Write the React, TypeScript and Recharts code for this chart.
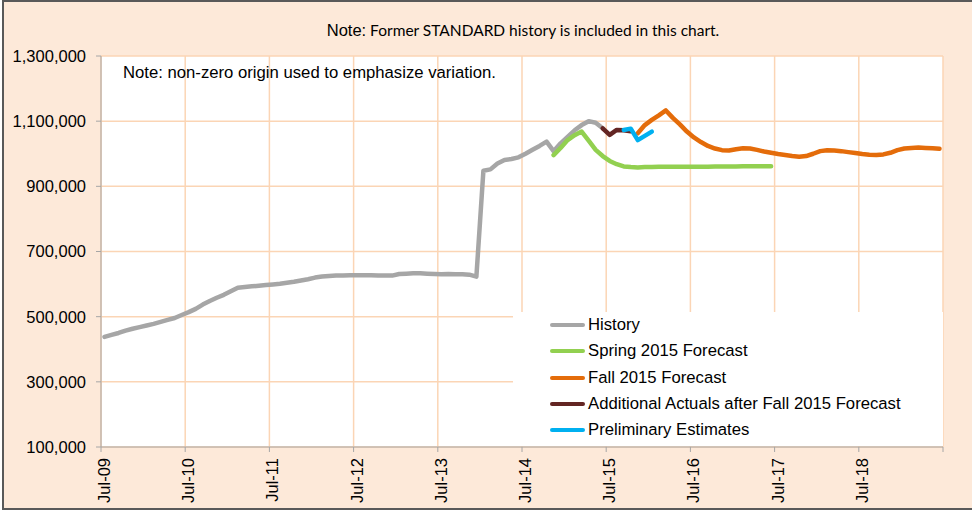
import React from 'react';
import { LineChart, Line, XAxis, YAxis, CartesianGrid, Legend } from 'recharts';

// Month index 0 = Jul-09 (points are drawn at the middle of their month)
const yearTicks = [0, 12, 24, 36, 48, 60, 72, 84, 96, 108, 120];
const yearLabels = ['Jul-09', 'Jul-10', 'Jul-11', 'Jul-12', 'Jul-13', 'Jul-14', 'Jul-15', 'Jul-16', 'Jul-17', 'Jul-18', ''];
const yTicks = [100000, 300000, 500000, 700000, 900000, 1100000, 1300000];

const historyStart = 0;
const history = [
  438000, 444000, 450000, 457000, 463000, 468000, 473000, 478000, 484000, 490000, 496000, 505000,
  514000, 524000, 537000, 548000, 558000, 567000, 578000, 589000, 591000, 593000, 595000, 597000,
  599000, 601000, 604000, 607000, 611000, 615000, 620000, 623000, 625000, 626000, 626000, 627000,
  627000, 627000, 627000, 626000, 626000, 626000, 631000, 632000, 633000, 633000, 632000, 631000,
  630000, 631000, 630000, 630000, 629000, 623000, 948000, 952000, 970000, 981000, 984000, 989000,
  1000000, 1012000, 1024000, 1037000, 1008000, 1032000, 1052000, 1072000, 1088000, 1100000, 1095000, 1078000,
];

const springStart = 64;
const spring = [
  996000, 1018000, 1042000, 1057000, 1068000, 1040000, 1012000, 993000, 978000, 968000, 961000, 959000,
  958000, 959000, 959000, 960000, 960000, 960000, 960000, 960000, 960000, 960000, 960000, 961000,
  961000, 961000, 961000, 962000, 962000, 962000, 962000, 962000,
];

const fallStart = 76;
const fall = [
  1063000, 1088000, 1104000, 1118000, 1133000, 1110000, 1090000, 1068000, 1050000, 1036000, 1024000, 1016000,
  1011000, 1010000, 1014000, 1017000, 1016000, 1012000, 1007000, 1003000, 999000, 996000, 993000, 991000,
  993000, 1000000, 1008000, 1011000, 1010000, 1008000, 1005000, 1002000, 999000, 997000, 996000, 998000,
  1003000, 1011000, 1016000, 1018000, 1019000, 1018000, 1017000, 1015000,
];

const actualsStart = 71;
const actuals = [1078000, 1058000, 1073000, 1072000, 1069000];

const prelimStart = 74;
const prelim = [1073000, 1077000, 1042000, 1055000, 1068000];

const seriesDefs = [
  { key: 'history', name: 'History', color: '#A6A6A6', start: historyStart, values: history },
  { key: 'spring', name: 'Spring 2015 Forecast', color: '#92D050', start: springStart, values: spring },
  { key: 'fall', name: 'Fall 2015 Forecast', color: '#E46C0A', start: fallStart, values: fall },
  { key: 'actuals', name: 'Additional Actuals after Fall 2015 Forecast', color: '#632523', start: actualsStart, values: actuals },
  { key: 'prelim', name: 'Preliminary Estimates', color: '#00B0F0', start: prelimStart, values: prelim },
];
const seriesNames = seriesDefs.map((s) => s.name);

const rows: any[] = [];
for (let m = 0; m < 120; m++) {
  const row: any = { x: m + 0.5 };
  seriesDefs.forEach((s) => {
    const i = m - s.start;
    if (i >= 0 && i < s.values.length) row[s.key] = s.values[i];
  });
  rows.push(row);
}

const FONT = '"Liberation Sans", Arial, sans-serif';
const PEACH = '#FDE9D9';
const GRID = '#FBD5B5';

const XTick = (props: any) => {
  const { x, y, payload } = props;
  const idx = yearTicks.indexOf(payload.value);
  const label = idx >= 0 ? yearLabels[idx] : '';
  return (
    <text
      x={x}
      y={y}
      transform={`rotate(-90 ${x} ${y})`}
      textAnchor="end"
      dy="0.55em"
      fontFamily={FONT}
      fontSize={16.5}
      fill="#000"
    >
      {label}
    </text>
  );
};

const LegendContent = (props: any) => {
  const payload = [...(props.payload || [])].sort(
    (a: any, b: any) => seriesNames.indexOf(a.value) - seriesNames.indexOf(b.value)
  );
  return (
    <div style={{ width: '100%', height: '100%', background: '#fff', position: 'relative' }}>
      {payload.map((p: any, i: number) => (
        <div
          key={i}
          style={{
            position: 'absolute',
            left: 37,
            top: i * 26.3,
            height: 26.3,
            display: 'flex',
            alignItems: 'center',
            whiteSpace: 'nowrap',
          }}
        >
          <div style={{ width: 35, height: 4, borderRadius: 2, background: p.color }} />
          <span style={{ marginLeft: 3, fontFamily: FONT, fontSize: 16.7, color: '#000' }}>{p.value}</span>
        </div>
      ))}
    </div>
  );
};

export default function App() {
  return (
    <div style={{ position: 'absolute', left: 0, top: 0, width: 972, height: 510, overflow: 'hidden', background: '#fff' }}>
      <div
        style={{
          position: 'absolute',
          left: 2,
          top: 0,
          width: 980,
          height: 506,
          background: PEACH,
          border: '2px solid #595959',
        }}
      />
      <div style={{ position: 'absolute', left: 0, top: 0 }}>
        <LineChart width={972} height={510} data={rows} margin={{ top: 56, right: 29, bottom: 8, left: 0 }}>
          <CartesianGrid stroke={GRID} strokeWidth={1.5} fill="#fff" fillOpacity={1} />
          <XAxis
            type="number"
            dataKey="x"
            domain={[0, 120]}
            ticks={yearTicks}
            interval={0}
            height={55}
            tickSize={5}
            tickMargin={6}
            tick={<XTick />}
            stroke="#A6A6A6"
            tickLine={{ stroke: '#A6A6A6' }}
          />
          <YAxis
            type="number"
            domain={[100000, 1300000]}
            ticks={yTicks}
            interval={0}
            width={101}
            tickSize={5}
            tickMargin={10}
            allowDataOverflow
            stroke="#A6A6A6"
            tickLine={{ stroke: '#A6A6A6' }}
            tick={{ fontFamily: FONT, fontSize: 16.5, fill: '#000' }}
            tickFormatter={(v: number) => v.toLocaleString('en-US')}
          />
          {seriesDefs.map((s) => (
            <Line
              key={s.key}
              type="linear"
              dataKey={s.key}
              name={s.name}
              stroke={s.color}
              strokeWidth={4.5}
              strokeLinejoin="round"
              strokeLinecap="round"
              dot={false}
              activeDot={false}
              connectNulls={false}
              isAnimationActive={false}
            />
          ))}
          <Legend
            layout="vertical"
            align="center"
            verticalAlign="middle"
            content={<LegendContent />}
            wrapperStyle={{ position: 'absolute', left: 513, top: 312, width: 430, height: 134, margin: 0 }}
          />
        </LineChart>
      </div>
      <div
        style={{
          position: 'absolute',
          left: 0,
          width: 1046,
          top: 20,
          textAlign: 'center',
          whiteSpace: 'nowrap',
          lineHeight: '20px',
        }}
      >
        <span style={{ fontFamily: FONT, fontSize: 16.5, color: '#000' }}>Note:</span>
        <span style={{ fontFamily: 'Lato, sans-serif', fontSize: 15.5, color: '#000' }}> Former STANDARD history is included in this chart.</span>
      </div>
      <div
        style={{
          position: 'absolute',
          left: 123,
          top: 63,
          lineHeight: '20px',
          whiteSpace: 'nowrap',
          fontFamily: FONT,
          fontSize: 16.7,
          color: '#000',
        }}
      >
        Note: non-zero origin used to emphasize variation.
      </div>
    </div>
  );
}
